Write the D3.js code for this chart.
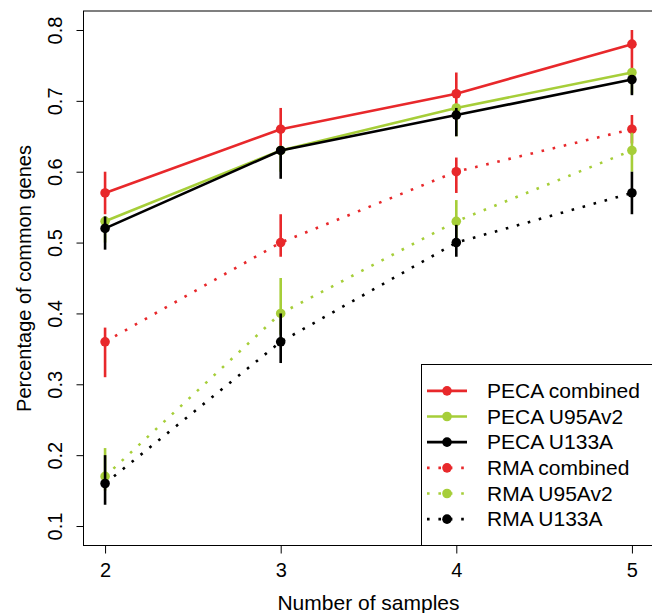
<!DOCTYPE html>
<html>
<head>
<meta charset="utf-8">
<script src="https://cdn.jsdelivr.net/npm/d3@7"></script>
<style>
  html, body { margin: 0; padding: 0; background: #fff; }
  svg { display: block; font-family: "Liberation Sans", Arial, Helvetica, sans-serif; }
</style>
</head>
<body>
<script>
// ---------------- data ----------------
const samples = [2, 3, 4, 5];
const xTicks = [2, 3, 4, 5];
const yTicks = [0.1, 0.2, 0.3, 0.4, 0.5, 0.6, 0.7, 0.8];

const seriesNames = ["PECA combined", "PECA U95Av2", "PECA U133A", "RMA combined", "RMA U95Av2", "RMA U133A"];

const pecaCombinedMean = [0.57, 0.66, 0.71, 0.78];
const pecaCombinedLow  = [0.54, 0.63, 0.68, 0.74];
const pecaCombinedHigh = [0.60, 0.69, 0.74, 0.80];

const pecaU95Mean = [0.53, 0.63, 0.69, 0.74];
const pecaU95Low  = [0.50, 0.60, 0.65, 0.71];
const pecaU95High = [0.535, 0.635, 0.695, 0.745];

const pecaU133Mean = [0.52, 0.63, 0.68, 0.73];
const pecaU133Low  = [0.49, 0.59, 0.65, 0.708];
const pecaU133High = [0.537, 0.635, 0.69, 0.735];

const rmaCombinedMean = [0.36, 0.50, 0.60, 0.66];
const rmaCombinedLow  = [0.31, 0.48, 0.57, 0.64];
const rmaCombinedHigh = [0.38, 0.54, 0.62, 0.68];

const rmaU95Mean = [0.17, 0.40, 0.53, 0.63];
const rmaU95Low  = [0.15, 0.37, 0.50, 0.60];
const rmaU95High = [0.21, 0.45, 0.56, 0.655];

const rmaU133Mean = [0.16, 0.36, 0.50, 0.57];
const rmaU133Low  = [0.13, 0.33, 0.48, 0.54];
const rmaU133High = [0.20, 0.40, 0.525, 0.60];

const xLabel = "Number of samples";
const yLabel = "Percentage of common genes";

// ---------------- styles ----------------
const RED = "#E8282B", GREEN = "#A6CE39", BLACK = "#000000";
const seriesStyles = [
  { color: RED,   dotted: false },
  { color: GREEN, dotted: false },
  { color: BLACK, dotted: false },
  { color: RED,   dotted: true },
  { color: GREEN, dotted: true },
  { color: BLACK, dotted: true }
];
const seriesData = [
  [pecaCombinedMean, pecaCombinedLow, pecaCombinedHigh],
  [pecaU95Mean, pecaU95Low, pecaU95High],
  [pecaU133Mean, pecaU133Low, pecaU133High],
  [rmaCombinedMean, rmaCombinedLow, rmaCombinedHigh],
  [rmaU95Mean, rmaU95Low, rmaU95High],
  [rmaU133Mean, rmaU133Low, rmaU133High]
];

// ---------------- chart ----------------
const W = 652, H = 613;
const plot = { left: 84, right: 653, top: 11, bottom: 546 };
const FONT = 20;

const svg = d3.select("body").append("svg").attr("width", W).attr("height", H);

const x = d3.scaleLinear().domain([1.88, 5.12]).range([plot.left, plot.right]);
const y = d3.scaleLinear().domain([0.0718, 0.8268]).range([plot.bottom, plot.top]);

const lineW = 2.6, dotW = 2.6;
const dash = "2.6,8.8";
const R = 4.8;

const line = d3.line().x((d, i) => x(samples[i])).y(d => y(d));

seriesData.forEach((sd, k) => {
  const st = seriesStyles[k];
  const [mean, lo, hi] = sd;
  const g = svg.append("g");
  g.append("path")
    .attr("d", line(mean))
    .attr("fill", "none")
    .attr("stroke", st.color)
    .attr("stroke-width", st.dotted ? dotW : lineW)
    .attr("stroke-dasharray", st.dotted ? dash : null)
    .attr("stroke-linejoin", "round");
  g.selectAll(".err").data(samples).enter().append("line")
    .attr("x1", d => x(d)).attr("x2", d => x(d))
    .attr("y1", (d, i) => y(lo[i])).attr("y2", (d, i) => y(hi[i]))
    .attr("stroke", st.color).attr("stroke-width", 2.6);
  g.selectAll(".pt").data(samples).enter().append("circle")
    .attr("cx", d => x(d)).attr("cy", (d, i) => y(mean[i]))
    .attr("r", R).attr("fill", st.color);
});

// frame
svg.append("rect")
  .attr("x", plot.left - 0.5).attr("y", plot.top)
  .attr("width", plot.right - plot.left + 0.5).attr("height", plot.bottom - plot.top - 0.5)
  .attr("fill", "none").attr("stroke", "#000").attr("stroke-width", 1);

// y axis
const yAxis = svg.append("g")
  .attr("transform", `translate(${plot.left - 0.5},0)`)
  .call(d3.axisLeft(y).tickValues(yTicks).tickSize(7).tickFormat(d3.format(".1f")));
yAxis.select(".domain").remove();
yAxis.selectAll(".tick line").attr("stroke", "#000");
yAxis.selectAll(".tick text")
  .attr("x", null).attr("dy", null)
  .attr("text-anchor", "middle")
  .attr("transform", "translate(-21.5,0) rotate(-90)")
  .attr("font-size", FONT).attr("font-family", "Liberation Sans, Arial, sans-serif").attr("fill", "#000");

// x axis
const xAxis = svg.append("g")
  .attr("transform", `translate(0,${plot.bottom - 0.5})`)
  .call(d3.axisBottom(x).tickValues(xTicks).tickSize(8).tickFormat(d3.format("d")));
xAxis.select(".domain").remove();
xAxis.selectAll(".tick line").attr("stroke", "#000");
xAxis.selectAll(".tick text")
  .attr("y", 31.5).attr("dy", null)
  .attr("font-size", FONT).attr("font-family", "Liberation Sans, Arial, sans-serif").attr("fill", "#000");

// axis titles
svg.append("text")
  .attr("x", (plot.left + plot.right) / 2).attr("y", 610)
  .attr("text-anchor", "middle").attr("font-size", FONT + 1)
  .text(xLabel);
svg.append("text")
  .attr("transform", `translate(31,${(plot.top + plot.bottom) / 2}) rotate(-90)`)
  .attr("text-anchor", "middle").attr("font-size", FONT)
  .text(yLabel);

// legend
const leg = { left: 421, top: 364 };
svg.append("rect")
  .attr("x", leg.left + 0.5).attr("y", leg.top + 0.5)
  .attr("width", plot.right - leg.left).attr("height", plot.bottom - leg.top - 1)
  .attr("fill", "#fff").attr("stroke", "#000").attr("stroke-width", 1);

const rowY = d3.scaleBand().domain(seriesNames).range([378, 532]);
seriesNames.forEach((name, k) => {
  const st = seriesStyles[k];
  const cy = rowY(name) + rowY.bandwidth() / 2;
  svg.append("line")
    .attr("x1", 427).attr("x2", 467).attr("y1", cy).attr("y2", cy)
    .attr("stroke", st.color).attr("stroke-width", st.dotted ? dotW : lineW)
    .attr("stroke-dasharray", st.dotted ? dash : null);
  svg.append("circle").attr("cx", 447).attr("cy", cy).attr("r", R).attr("fill", st.color);
  svg.append("text")
    .attr("x", 487).attr("y", cy + 7)
    .attr("font-size", FONT + 1).attr("fill", "#000")
    .text(name);
});
</script>
</body>
</html>
